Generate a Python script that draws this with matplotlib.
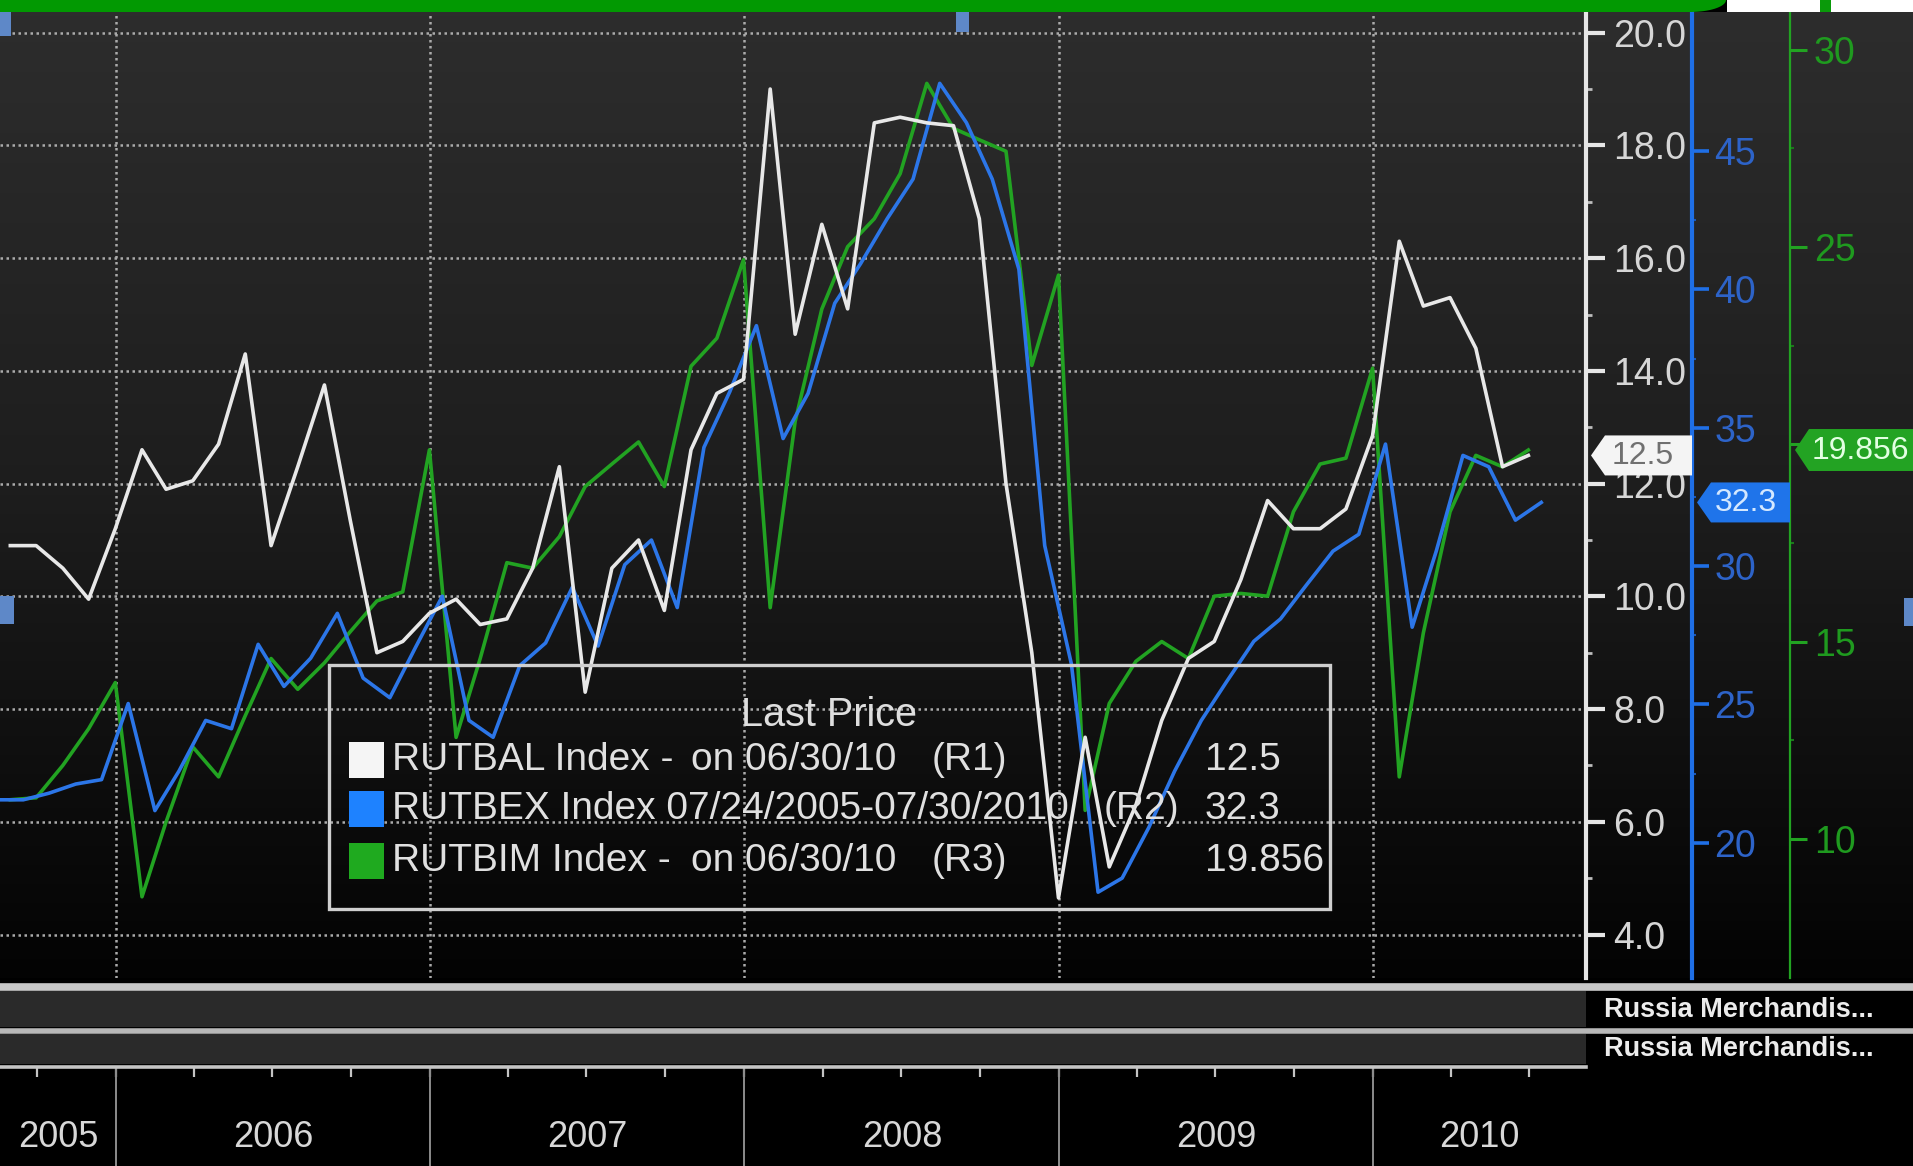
import numpy as np
import pandas as pd
import matplotlib
matplotlib.use("Agg")
import matplotlib.pyplot as plt
import matplotlib.dates as mdates
from matplotlib import font_manager as fm
from matplotlib.patches import Polygon, Rectangle
from matplotlib.ticker import FixedLocator, FormatStrFormatter, NullFormatter, FuncFormatter
from matplotlib.colors import LinearSegmentedColormap

# ---------------- data ----------------
rutbal_dates = pd.date_range("2005-08-31", periods=59, freq="ME")
rutbal = [10.9, 10.9, 10.5, 9.95, 11.2,
          12.6, 11.9, 12.05, 12.7, 14.3, 10.9, 12.3, 13.75, 11.35, 9.0, 9.2, 9.7,
          9.95, 9.5, 9.6, 10.5, 12.3, 8.3, 10.5, 11.0, 9.75, 12.6, 13.6, 13.85,
          19.0, 14.65, 16.6, 15.1, 18.4, 18.5, 18.4, 18.35, 16.7, 12.0, 9.0, 4.65,
          7.5, 5.2, 6.3, 7.8, 8.9, 9.2, 10.3, 11.7, 11.2, 11.2, 11.55, 12.85,
          16.3, 15.15, 15.3, 14.4, 12.3, 12.5]

rutbim_dates = pd.date_range("2005-08-31", periods=59, freq="ME")
rutbim = [10.99, 11.04, 11.86, 12.79, 13.96,
          8.53, 10.43, 12.33, 11.57, 13.12, 14.57, 13.79, 14.46, 15.25, 16.03, 16.26, 19.86,
          12.57, 14.57, 17.00, 16.86, 17.66, 18.93, 19.50, 20.06, 18.93, 21.98, 22.69, 24.68,
          15.86, 20.58, 23.43, 25.01, 25.72, 26.86, 29.15, 28.01, 27.72, 27.43, 22.00, 24.29,
          10.72, 13.43, 14.50, 15.00, 14.57, 16.15, 16.22, 16.15, 18.29, 19.50, 19.65, 21.93,
          11.57, 15.22, 18.29, 19.72, 19.43, 19.856]

rutbex_dates = pd.date_range("2005-08-01", periods=60, freq="MS") + pd.Timedelta(days=14)
rutbex = [21.55, 21.55, 21.79, 22.12, 22.28,
          25.03, 21.16, 22.59, 24.42, 24.12, 27.17, 25.65, 26.67, 28.29, 25.95, 25.24, 27.07,
          28.91, 24.42, 23.81, 26.40, 27.22, 29.23, 27.11, 30.05, 30.94, 28.50, 34.29, 36.30,
          38.69, 34.61, 36.24, 39.50, 40.93, 42.56, 43.99, 47.45, 46.03, 43.99, 40.73, 30.74,
          26.46, 18.21, 18.72, 20.55, 22.59, 24.42, 25.85, 27.28, 28.09, 29.31, 30.54, 31.15,
          34.41, 27.79, 30.54, 34.00, 33.59, 31.66, 32.3]

r1_ticks = [4, 6, 8, 10, 12, 14, 16, 18, 20]
r2_ticks = [20, 25, 30, 35, 40, 45]
r3_ticks = [10, 15, 20, 25, 30]
r3_hidden_label = 20          # covered by the last-value tag in the reference
years = [2005, 2006, 2007, 2008, 2009, 2010]

legend_title = "Last Price"
legend_rows = [
    ("RUTBAL Index -", "on 06/30/10", "(R1)", "12.5"),
    ("RUTBEX Index 07/24/2005-07/30/2010", "", "(R2)", "32.3"),
    ("RUTBIM Index -", "on 06/30/10", "(R3)", "19.856"),
]
last_labels = ["12.5", "32.3", "19.856"]
panel_labels = ["Russia Merchandis...", "Russia Merchandis..."]

# ---------------- style ----------------
C_WHITE = "#e8e8e8"
C_BLUE = "#2c76e8"
C_GREEN = "#22a322"


def has_font(name):
    try:
        fm.findfont(fm.FontProperties(family=name), fallback_to_default=False)
        return True
    except Exception:
        return False


if has_font("Liberation Sans Narrow"):
    FAM, K = "Liberation Sans Narrow", 1.2
else:
    FAM, K = "Liberation Sans", 1.0
plt.rcParams["font.family"] = [FAM, "DejaVu Sans"]

W, H, DPI = 1913, 1166, 100
fig = plt.figure(figsize=(W / DPI, H / DPI), dpi=DPI, facecolor="black")


def fx(x):
    return x / W


def fy(y):
    return 1 - y / H


PL, PR, PT, PB = 0, 1586, 12, 978
XLIM = (pd.Timestamp("2005-08-19"), pd.Timestamp("2010-09-05"))
R1_LIM = (3.229, 20.367)
R2_LIM = (15.108, 50.03)
R3_LIM = (6.471, 30.96)

# background gradient
axbg = fig.add_axes([0, fy(PB), 1, fy(PT) - fy(PB)])
cmap = LinearSegmentedColormap.from_list("bg", ["#2d2d2d", "#1d1d1d", "#030303"])
axbg.imshow(np.linspace(0, 1, 256)[:, None], aspect="auto", cmap=cmap,
            extent=[0, 1, 0, 1], origin="upper")
axbg.axis("off")

rect = [fx(PL), fy(PB), fx(PR) - fx(PL), fy(PT) - fy(PB)]
ax0 = fig.add_axes(rect)
ax0.patch.set_visible(False)
ax0.set_xlim(XLIM)
ax0.set_ylim(R1_LIM)

ax_g = ax0.twinx()
ax_b = ax0.twinx()
ax_w = ax0.twinx()

# host axis (R1, white) -- configured after twinx, which moves host ticks left
for s in ["left", "top", "bottom"]:
    ax0.spines[s].set_visible(False)
ax0.spines["right"].set_color("#e6e6e6")
ax0.spines["right"].set_linewidth(3)
ax0.yaxis.tick_right()
ax0.yaxis.set_major_locator(FixedLocator(r1_ticks))
ax0.yaxis.set_minor_locator(FixedLocator([t + 1 for t in r1_ticks[:-1]]))
ax0.yaxis.set_major_formatter(FormatStrFormatter("%.1f"))
ax0.tick_params(axis="y", which="major", direction="out", length=14, width=3,
                color="#e6e6e6", pad=5.5, labelsize=27 * K, labelcolor="#d6d6d6",
                left=False, labelleft=False, right=True, labelright=True)
ax0.tick_params(axis="y", which="minor", direction="out", length=4, width=2,
                color="#bdbdbd", left=False, right=True)
ax0.xaxis.set_major_locator(mdates.YearLocator())
ax0.tick_params(axis="x", length=0, labelbottom=False)
ax0.grid(True, which="major", color="#ababab", linestyle=(0, (1, 1.4)), linewidth=1.8)

# R3 (green)
ax_g.set_ylim(R3_LIM)
for s in ["left", "top", "bottom"]:
    ax_g.spines[s].set_visible(False)
ax_g.spines["right"].set_position(("axes", 1.1286))
ax_g.spines["right"].set_color(C_GREEN)
ax_g.spines["right"].set_linewidth(1.6)
ax_g.yaxis.set_major_locator(FixedLocator(r3_ticks))
ax_g.yaxis.set_minor_locator(FixedLocator([t + 2.5 for t in r3_ticks[:-1]]))
ax_g.yaxis.set_major_formatter(
    FuncFormatter(lambda v, p: "" if round(v) == r3_hidden_label else f"{v:.0f}"))
ax_g.tick_params(axis="y", which="major", direction="out", length=12, width=2.2,
                 color=C_GREEN, pad=5.3, labelsize=27 * K, labelcolor="#1f9a1f")
ax_g.tick_params(axis="y", which="minor", direction="out", length=3, width=1.5,
                 color="#1a7a1a")

# R2 (blue)
ax_b.set_ylim(R2_LIM)
for s in ["left", "top", "bottom"]:
    ax_b.spines[s].set_visible(False)
ax_b.spines["right"].set_position(("axes", 1.067))
ax_b.spines["right"].set_color("#1f6fe6")
ax_b.spines["right"].set_linewidth(3)
ax_b.yaxis.set_major_locator(FixedLocator(r2_ticks))
ax_b.yaxis.set_minor_locator(FixedLocator([t + 2.5 for t in r2_ticks[:-1]]))
ax_b.yaxis.set_major_formatter(FormatStrFormatter("%d"))
ax_b.tick_params(axis="y", which="major", direction="out", length=12, width=2.6,
                 color="#1f6fe6", pad=3.8, labelsize=27 * K, labelcolor="#2d63c8")
ax_b.tick_params(axis="y", which="minor", direction="out", length=3, width=1.5,
                 color="#1a58b8")

# R1 data axis (white), no decorations
ax_w.set_ylim(R1_LIM)
for s in ax_w.spines.values():
    s.set_visible(False)
ax_w.tick_params(axis="y", length=0, labelright=False)

ax_g.plot(rutbim_dates, rutbim, color=C_GREEN, lw=2.6)
ax_b.plot(rutbex_dates, rutbex, color=C_BLUE, lw=2.6)
ax_w.plot(rutbal_dates, rutbal, color=C_WHITE, lw=2.6)

# ---------------- lower panels ----------------
axl = fig.add_axes([0, 0, 1, fy(PB)])
axl.set_xlim(0, W)
axl.set_ylim(H, PB)
axl.axis("off")
axl.add_patch(Rectangle((0, 991), PR, 36, facecolor="#2a2a2a", edgecolor="none"))
axl.add_patch(Rectangle((0, 1034), PR, 30, facecolor="#2a2a2a", edgecolor="none"))
axl.plot([0, W], [987, 987], color="#c8c8c8", lw=5.5, solid_capstyle="butt")
axl.plot([0, W], [1030.5, 1030.5], color="#b8b8b8", lw=4, solid_capstyle="butt")
for i, lab in enumerate(panel_labels):
    axl.text(1604, [1010, 1049][i], lab, color="#ececec", fontsize=19.5 * K,
             fontweight="bold", va="center", ha="left")

axd = fig.add_axes([0, 0, fx(PR), fy(1067)])
axd.patch.set_visible(False)
axd.set_xlim(XLIM)
axd.set_ylim(0, 1)
for s in ["left", "right", "bottom"]:
    axd.spines[s].set_visible(False)
axd.spines["top"].set_color("#c4c4c4")
axd.spines["top"].set_linewidth(2.6)
axd.xaxis.tick_top()
axd.xaxis.set_major_locator(mdates.MonthLocator(bymonth=(1, 4, 7, 10)))
axd.xaxis.set_major_formatter(NullFormatter())
axd.tick_params(axis="x", direction="in", length=7, width=1.6, color="#c4c4c4")
axd.set_yticks([])
year_starts = [pd.Timestamp(f"{y}-01-01") for y in years[1:]]
axd.vlines(year_starts, 0, 1, color="#8c8c8c", lw=1.4)
x0n, x1n = mdates.date2num(XLIM[0]), mdates.date2num(XLIM[1])
for y in years:
    a = max(mdates.date2num(pd.Timestamp(f"{y}-01-01")), x0n)
    b = min(mdates.date2num(pd.Timestamp(f"{y + 1}-01-01")), x1n)
    axd.text((a + b) / 2, 0.29, str(y), color="#d8d8d8", fontsize=26 * K,
             ha="center", va="center")

# ---------------- overlay ----------------
axo = fig.add_axes([0, 0, 1, 1])
axo.set_zorder(20)
axo.patch.set_visible(False)
axo.set_xlim(0, W)
axo.set_ylim(H, 0)
axo.axis("off")

# top bar
t = np.linspace(0, np.pi / 2, 24)
bar = [(0, 0), (0, 12), (1690, 12)] + [(1690 + 36 * np.sin(a), 12 * np.cos(a)) for a in t]
axo.add_patch(Polygon(bar, closed=True, facecolor="#029902", edgecolor="none"))
axo.add_patch(Rectangle((1727, 0), 93, 12, facecolor="white", edgecolor="none"))
axo.add_patch(Rectangle((1820, 0), 11, 12, facecolor="#0a9a0a", edgecolor="none"))
axo.add_patch(Rectangle((1831, 0), 82, 12, facecolor="white", edgecolor="none"))

# small blue markers
for (mx, my, mw, mh) in [(0, 12, 11, 24), (956, 12, 13, 20), (0, 596, 14, 28), (1904, 598, 9, 28)]:
    axo.add_patch(Rectangle((mx, my), mw, mh, facecolor="#5e88c8", edgecolor="none"))

# legend box
LFS = 28 * K
axo.add_patch(Rectangle((329, 665), 1001, 244, fill=False, edgecolor="#cfcfcf", lw=2.4))
axo.text(829, 715, legend_title, color="#dedede", fontsize=28.5 * K, ha="center", va="center")
sq_cols = ["#f5f5f5", "#1e82ff", "#1faa1f"]
row_y = [760, 809, 861]
for i, (name, date_txt, ref, val) in enumerate(legend_rows):
    yc = row_y[i]
    axo.add_patch(Rectangle((349, yc - 18), 35, 36, facecolor=sq_cols[i], edgecolor="none"))
    axo.text(392, yc, name, color="#e0e0e0", fontsize=LFS, ha="left", va="center")
    if date_txt:
        axo.text(691, yc, date_txt, color="#e0e0e0", fontsize=LFS, ha="left", va="center")
    rx = 932 if date_txt else 1104
    axo.text(rx, yc, ref, color="#e0e0e0", fontsize=LFS, ha="left", va="center")
    axo.text(1205, yc, val, color="#e0e0e0", fontsize=LFS, ha="left", va="center")


# value tags on the axes
def ypx(ax, val):
    return H - ax.transData.transform((0, val))[1]


def tag(x0, x1, yc, h, face, txt, tcol, tx, ha):
    pts = [(x0, yc), (x0 + 14, yc - h), (x1, yc - h), (x1, yc + h), (x0 + 14, yc + h)]
    axo.add_patch(Polygon(pts, closed=True, facecolor=face, edgecolor="none"))
    axo.text(tx, yc + 1, txt, color=tcol, fontsize=23 * K, ha=ha, va="center")


tag(1591, 1692, ypx(ax_w, rutbal[-1]), 20, "#f4f4f4", last_labels[0], "#707070", 1643, "center")
tag(1697, 1790, ypx(ax_b, rutbex[-1]), 20, "#1f74ea", last_labels[1], "#d4e8ff", 1746, "center")
tag(1795, 1925, ypx(ax_g, rutbim[-1]), 21, "#23a323", last_labels[2], "#e2ffe2", 1812, "left")

fig.savefig("out.png", dpi=DPI, facecolor="black")
